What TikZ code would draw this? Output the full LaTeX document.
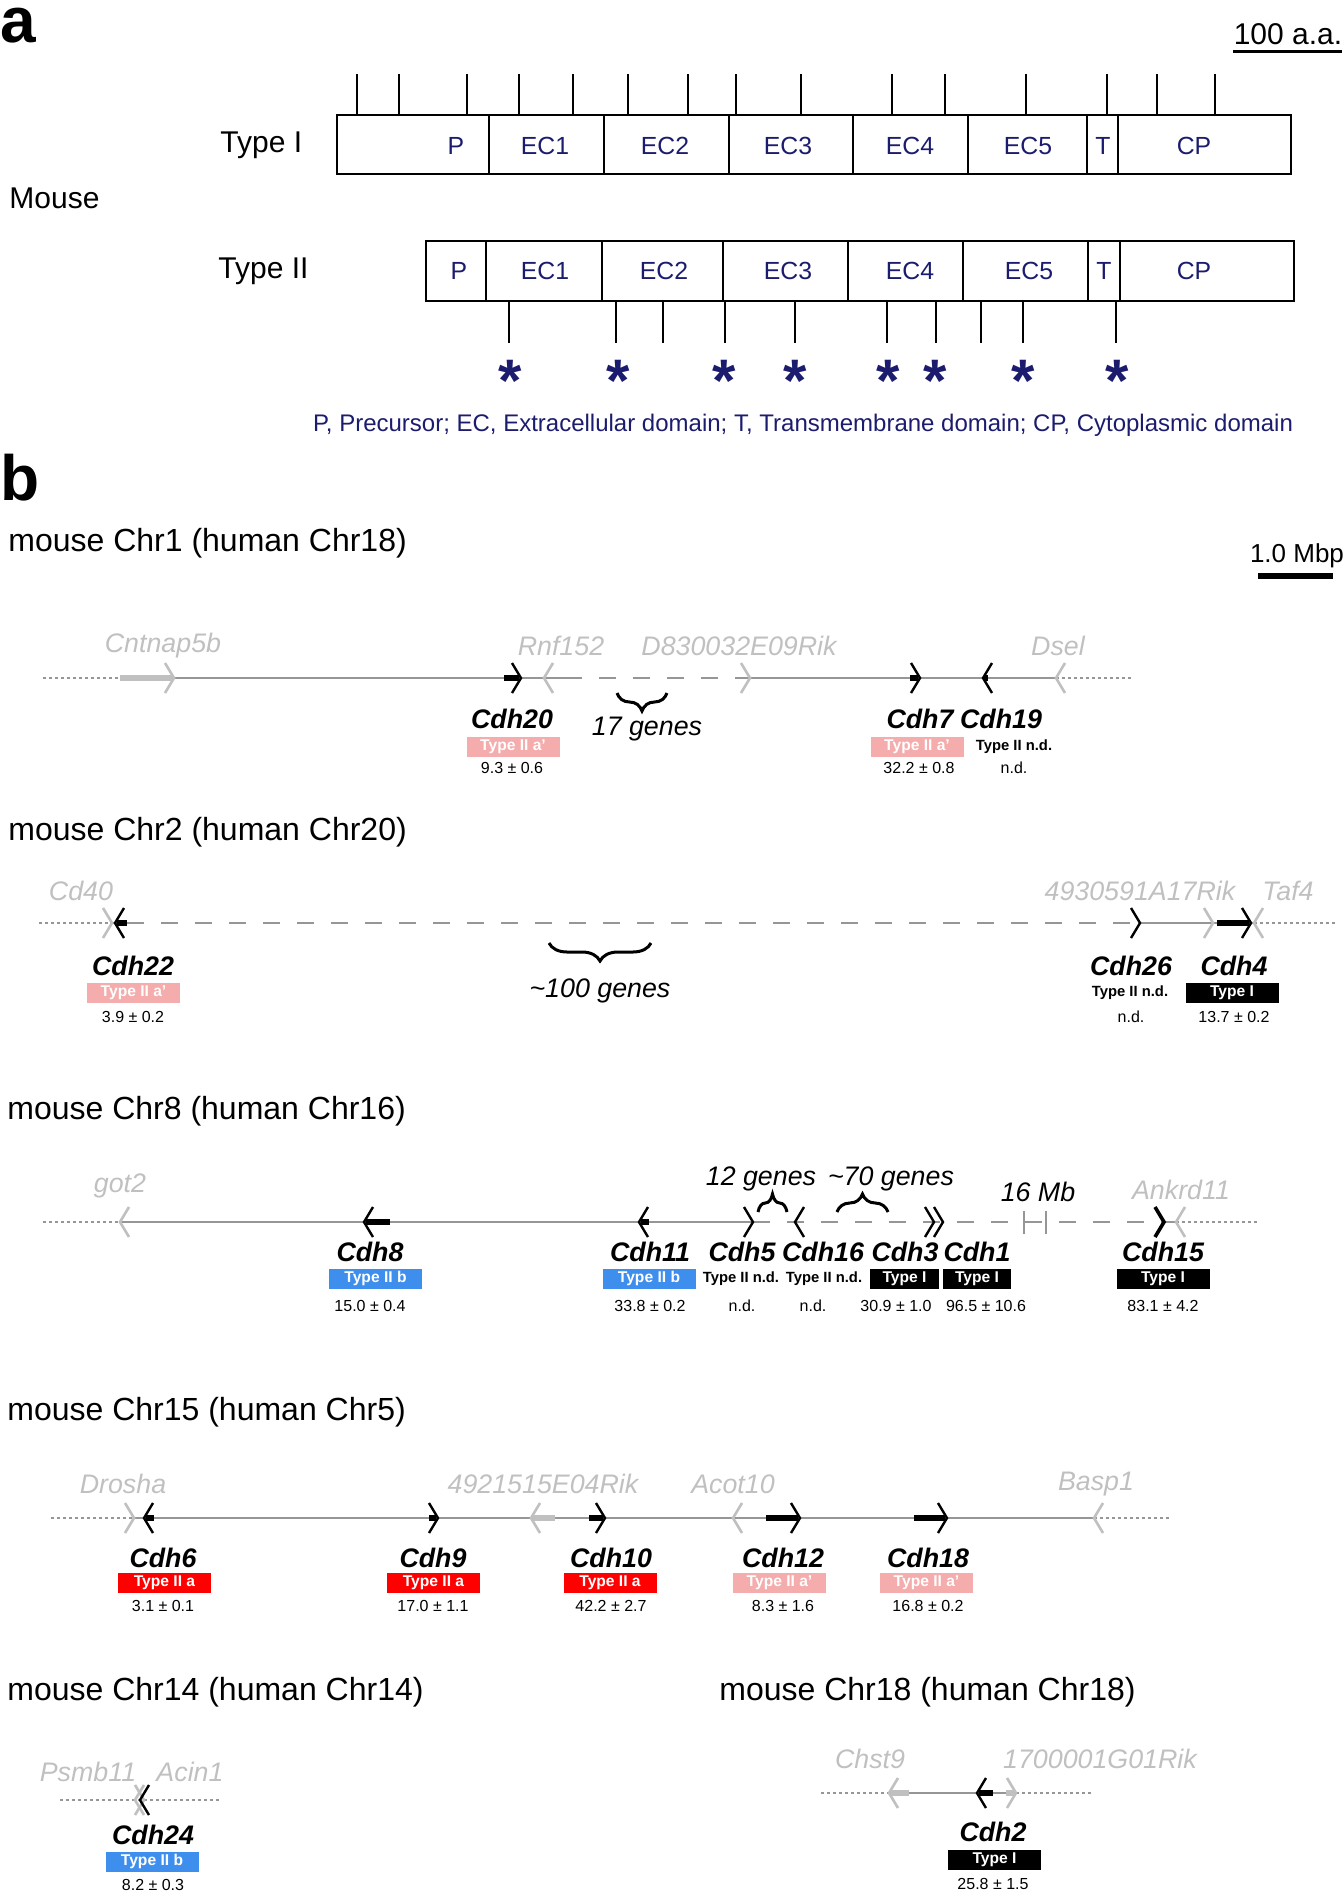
\documentclass[tikz,border=0pt]{standalone}
\usepackage{fontspec}
\setmainfont{Liberation Sans}
\usetikzlibrary{decorations.pathreplacing}
\definecolor{navy}{RGB}{28,28,110}
\definecolor{genegrey}{RGB}{192,192,192}
\definecolor{linegrey}{RGB}{150,150,150}
\definecolor{pinkbox}{RGB}{245,172,172}
\definecolor{redbox}{RGB}{255,0,0}
\definecolor{bluebox}{RGB}{62,142,238}
% chevrons of the genes
\newcommand{\genefwd}[3]{\draw[#1] ({#2-9},{#3-15}) -- (#2,#3) -- ({#2-9},{#3+15});}
\newcommand{\generev}[3]{\draw[#1] ({#2+9},{#3-15}) -- (#2,#3) -- ({#2+9},{#3+15});}

\begin{document}
\begin{tikzpicture}[x=0.5pt,y=-0.5pt,line cap=butt,line join=miter,
  panel/.style={anchor=base west,inner sep=0pt,font=\fontsize{32}{36}\selectfont\bfseries},
  chrtitle/.style={anchor=west,inner sep=0pt,font=\fontsize{16}{19}\selectfont},
  dom/.style={text=navy,font=\fontsize{12.4}{15}\selectfont,inner sep=0pt},
  dombox/.style={line width=1.3pt},
  domline/.style={line width=1pt},
  tickline/.style={line width=1pt},
  star/.style={text=navy,anchor=base,inner sep=0pt,font=\fontsize{30}{30}\selectfont\bfseries},
  gname/.style={text=genegrey,inner sep=0pt,font=\fontsize{13.4}{16}\selectfont\itshape},
  cdh/.style={inner sep=0pt,font=\fontsize{13.4}{16}\selectfont\bfseries\itshape},
  ngenes/.style={inner sep=0pt,font=\fontsize{13.4}{16}\selectfont\itshape},
  tbox/.style={text=white,inner sep=0pt,minimum width=46.5pt,minimum height=10pt,font=\fontsize{7.8}{9}\selectfont\bfseries},
  ndtext/.style={inner sep=0pt,font=\fontsize{7.4}{9}\selectfont\bfseries},
  val/.style={inner sep=0pt,font=\fontsize{8}{10}\selectfont},
  chrline/.style={draw=linegrey,line width=1pt},
  dashline/.style={draw=linegrey,line width=1pt,dash pattern=on 8.5pt off 8.5pt},
  dotline/.style={draw=linegrey,line width=0.7pt,dash pattern=on 1.5pt off 1.5pt},
  gchev/.style={draw=genegrey,line width=1.3pt},
  bchev/.style={draw=black,line width=1.2pt},
  gbar/.style={draw=genegrey,line width=3pt},
  bbar/.style={draw=black,line width=3pt},
  gbrace/.style={decorate,decoration={brace,amplitude=9pt},line width=1.5pt},
  breakline/.style={draw=linegrey,line width=0.7pt}]
\useasboundingbox (0,0) rectangle (1344,1891);

% ---------- a ----------
\node[panel] (pa) at (0,42) {a};
\node[anchor=center,inner sep=0pt,font=\fontsize{15}{18}\selectfont] (aa) at (1288,34) {100 a.a.};
\draw[line width=1.5pt] (1233,51) -- (1342,51);
\node[anchor=west,inner sep=0pt,font=\fontsize{15}{18}\selectfont] (mouse) at (9,198) {Mouse};
\node[anchor=west,inner sep=0pt,font=\fontsize{15}{18}\selectfont] (typeI) at (220,145) {Type I};
\node[anchor=west,inner sep=0pt,font=\fontsize{15}{18}\selectfont] (typeII) at (218,271) {Type II};
% Type I
\foreach \x in {357,399,467,519,573,628,688,736,801,892,945,1026,1107,1157,1215}
  \draw[tickline] (\x,74) -- (\x,115);
\draw[dombox] (337,115) rectangle (1291,174);
\foreach \x in {489,604,729,853,968,1087,1118}
  \draw[domline] (\x,115) -- (\x,174);
\node[dom] (pI) at (456,146) {P};
\node[dom] (ecIa) at (545,146) {EC1};
\node[dom] (ecIb) at (665,146) {EC2};
\node[dom] (ecIc) at (788,146) {EC3};
\node[dom] (ecId) at (910,146) {EC4};
\node[dom] (ecIe) at (1028,146) {EC5};
\node[dom] (tI) at (1103,146) {T};
\node[dom] (cpI) at (1194,146) {CP};
% Type II
\draw[dombox] (426,241) rectangle (1294,301);
\foreach \x in {486,602,723,848,963,1088,1120}
  \draw[domline] (\x,241) -- (\x,301);
\node[dom] (pII) at (459,271) {P};
\node[dom] (ecIIa) at (545,271) {EC1};
\node[dom] (ecIIb) at (664,271) {EC2};
\node[dom] (ecIIc) at (788,271) {EC3};
\node[dom] (ecIId) at (910,271) {EC4};
\node[dom] (ecIIe) at (1029,271) {EC5};
\node[dom] (tII) at (1104,271) {T};
\node[dom] (cpII) at (1194,271) {CP};
\foreach \x in {509,616,663,725,795,887,936,981,1023,1116}
  \draw[tickline] (\x,301) -- (\x,343);
\foreach \x in {510,618,724,795,888,935,1023,1117}
  \node[star] at (\x,401) {*};
\node[text=navy,inner sep=0pt,font=\fontsize{12}{14}\selectfont] (legend) at (803,425)
  {P, Precursor; EC, Extracellular domain; T, Transmembrane domain; CP, Cytoplasmic domain};

% ---------- b ----------
\node[panel] (pb) at (0,500) {b};
\node[anchor=center,inner sep=0pt,font=\fontsize{13}{16}\selectfont] (mbp) at (1297,556) {1.0 Mbp};
\draw[line width=3pt] (1258,576) -- (1333,576);

% Chr1
\node[chrtitle] (chrI) at (8,543) {mouse Chr1 (human Chr18)};
\draw[dotline] (43,678) -- (120,678);
\draw[chrline] (120,678) -- (565,678);
\draw[dashline] (565,678) -- (750,678);
\draw[chrline] (750,678) -- (1056,678);
\draw[dotline] (1056,678) -- (1131,678);
\draw[gbar] (120,678) -- (172,678);
\genefwd{gchev}{174}{678}
\draw[bbar] (504,678) -- (519,678);
\genefwd{bchev}{521}{678}
\generev{gchev}{544}{678}
\genefwd{gchev}{750}{678}
\draw[bbar] (910,678) -- (918,678);
\genefwd{bchev}{920}{678}
\draw[bbar] (984,678) -- (988,678);
\generev{bchev}{983}{678}
\generev{gchev}{1056}{678}
\node[gname] (cntnap) at (163,646) {Cntnap5b};
\node[gname] (rnf) at (561,646) {Rnf152};
\node[gname] (driken) at (739,646) {D830032E09Rik};
\node[gname] (dsel) at (1058,646) {Dsel};
\draw[gbrace] (667,693) -- (617,693);
\node[ngenes] (gI) at (647,729) {17 genes};
\node[cdh] (cdhxx) at (512,719) {Cdh20};
\node[tbox,fill=pinkbox] (tbxx) at (513,747) {Type II a’};
\node[val] (vxx) at (512,768) {9.3 ± 0.6};
\node[cdh] (cdhvii) at (920,719) {Cdh7};
\node[tbox,fill=pinkbox] (tbvii) at (917,747) {Type II a’};
\node[val] (vvii) at (919,768) {32.2 ± 0.8};
\node[cdh] (cdhxix) at (1001,719) {Cdh19};
\node[ndtext] (tbxix) at (1014,747) {Type II n.d.};
\node[val] (vxix) at (1014,768) {n.d.};

% Chr2
\node[chrtitle] (chrII) at (8,832) {mouse Chr2 (human Chr20)};
\draw[dotline] (39,923) -- (110,923);
\draw[dashline] (127,923) -- (1140,923);
\draw[chrline] (110,923) -- (127,923);
\draw[chrline] (1140,923) -- (1254,923);
\draw[dotline] (1254,923) -- (1337,923);
\genefwd{gchev}{112}{923}
\draw[bbar] (117,923) -- (127,923);
\generev{bchev}{115}{923}
\genefwd{bchev}{1140}{923}
\genefwd{gchev}{1213}{923}
\draw[bbar] (1217,923) -- (1249,923);
\genefwd{bchev}{1251}{923}
\generev{gchev}{1254}{923}
\node[gname] (cdxl) at (81,891) {Cd40};
\node[gname] (rikII) at (1140,891) {4930591A17Rik};
\node[gname] (taf) at (1288,891) {Taf4};
\draw[gbrace] (651,943) -- (549,943);
\node[ngenes] (gII) at (600,991) {\textasciitilde100 genes};
\node[cdh] (cdhxxii) at (133,966) {Cdh22};
\node[tbox,fill=pinkbox] (tbxxii) at (133.5,993) {Type II a’};
\node[val] (vxxii) at (133,1017) {3.9 ± 0.2};
\node[cdh] (cdhxxvi) at (1131,966) {Cdh26};
\node[ndtext] (tbxxvi) at (1130,993) {Type II n.d.};
\node[val] (vxxvi) at (1131,1017) {n.d.};
\node[cdh] (cdhiv) at (1234,966) {Cdh4};
\node[tbox,fill=black] (tbiv) at (1232,993) {Type I};
\node[val] (viv) at (1234,1017) {13.7 ± 0.2};

% Chr8
\node[chrtitle] (chrVIII) at (7,1111) {mouse Chr8 (human Chr16)};
\draw[dotline] (43,1222) -- (120,1222);
\draw[chrline] (120,1222) -- (753,1222);
\draw[dashline] (753,1222) -- (1164,1222);
\draw[chrline] (1164,1222) -- (1176,1222);
\draw[dotline] (1176,1222) -- (1258,1222);
\generev{gchev}{120}{1222}
\draw[bbar] (366,1222) -- (390,1222);
\generev{bchev}{364}{1222}
\draw[bbar] (641,1222) -- (649,1222);
\generev{bchev}{639}{1222}
\genefwd{bchev}{753}{1222}
\generev{bchev}{795}{1222}
\genefwd{bchev}{934}{1222}
\genefwd{bchev}{943}{1222}
\draw[breakline] (1024,1211) -- (1024,1234);
\draw[breakline] (1046,1211) -- (1046,1234);
\generev{gchev}{1176}{1222}
\genefwd{bchev,line width=1.8pt}{1164}{1222}
\node[gname] (got) at (120,1186) {got2};
\node[gname] (ankrd) at (1181,1190) {Ankrd11};
\draw[gbrace] (758,1212) -- (787,1212);
\draw[gbrace] (837,1212) -- (888,1212);
\node[ngenes] (gXII) at (761,1179) {12 genes};
\node[ngenes] (gLXX) at (891,1179) {\textasciitilde70 genes};
\node[ngenes] (mb) at (1038,1192) {16 Mb};
\node[cdh] (cdhviii) at (370,1252) {Cdh8};
\node[tbox,fill=bluebox] (tbviii) at (375.5,1278.5) {Type II b};
\node[val] (vviii) at (370,1306) {15.0 ± 0.4};
\node[cdh] (cdhxi) at (650,1252) {Cdh11};
\node[tbox,fill=bluebox] (tbxi) at (649,1278.5) {Type II b};
\node[val] (vxi) at (650,1306) {33.8 ± 0.2};
\node[cdh] (cdhv) at (742,1252) {Cdh5};
\node[ndtext] (tbv) at (741,1278.5) {Type II n.d.};
\node[val] (vv) at (742,1306) {n.d.};
\node[cdh] (cdhxvi) at (823,1252) {Cdh16};
\node[ndtext] (tbxvi) at (824,1278.5) {Type II n.d.};
\node[val] (vxvi) at (813,1306) {n.d.};
\node[cdh] (cdhiii) at (905,1252) {Cdh3};
\node[tbox,fill=black,minimum width=34.5pt] (tbiii) at (904.5,1278.5) {Type I};
\node[val] (viii) at (896,1306) {30.9 ± 1.0};
\node[cdh] (cdhi) at (977,1252) {Cdh1};
\node[tbox,fill=black,minimum width=34pt] (tbi) at (977,1278.5) {Type I};
\node[val] (vi) at (986,1306) {96.5 ± 10.6};
\node[cdh] (cdhxv) at (1163,1252) {Cdh15};
\node[tbox,fill=black] (tbxv) at (1163,1278.5) {Type I};
\node[val] (vxv) at (1163,1306) {83.1 ± 4.2};

% Chr15
\node[chrtitle] (chrXV) at (7,1412) {mouse Chr15 (human Chr5)};
\draw[dotline] (51,1518) -- (134,1518);
\draw[chrline] (134,1518) -- (1094,1518);
\draw[dotline] (1094,1518) -- (1172,1518);
\genefwd{gchev}{134}{1518}
\draw[bbar] (146,1518) -- (154,1518);
\generev{bchev}{144}{1518}
\draw[bbar] (429,1518) -- (436,1518);
\genefwd{bchev}{438}{1518}
\draw[gbar] (533,1518) -- (555,1518);
\generev{gchev}{531}{1518}
\draw[bbar] (589,1518) -- (603,1518);
\genefwd{bchev}{605}{1518}
\generev{gchev}{733}{1518}
\draw[bbar] (766,1518) -- (798,1518);
\genefwd{bchev}{800}{1518}
\draw[bbar] (914,1518) -- (945,1518);
\genefwd{bchev}{947}{1518}
\generev{gchev}{1094}{1518}
\node[gname] (drosha) at (123,1484) {Drosha};
\node[gname] (rikXV) at (543,1484) {4921515E04Rik};
\node[gname] (acot) at (733,1484) {Acot10};
\node[gname] (basp) at (1096,1484) {Basp1};
\node[cdh] (cdhvi) at (163,1558) {Cdh6};
\node[tbox,fill=redbox] (tbvi) at (164.5,1583) {Type II a};
\node[val] (vvi) at (163,1606) {3.1 ± 0.1};
\node[cdh] (cdhix) at (433,1558) {Cdh9};
\node[tbox,fill=redbox] (tbix) at (433.5,1583) {Type II a};
\node[val] (vix) at (433,1606) {17.0 ± 1.1};
\node[cdh] (cdhx) at (611,1558) {Cdh10};
\node[tbox,fill=redbox] (tbx) at (610,1583) {Type II a};
\node[val] (vx) at (611,1606) {42.2 ± 2.7};
\node[cdh] (cdhxii) at (783,1558) {Cdh12};
\node[tbox,fill=pinkbox] (tbxii) at (779.5,1583) {Type II a’};
\node[val] (vxii) at (783,1606) {8.3 ± 1.6};
\node[cdh] (cdhxviii) at (928,1558) {Cdh18};
\node[tbox,fill=pinkbox] (tbxviii) at (926.5,1583) {Type II a’};
\node[val] (vxviii) at (928,1606) {16.8 ± 0.2};

% Chr14
\node[chrtitle] (chrXIV) at (7,1692) {mouse Chr14 (human Chr14)};
\draw[dotline] (60,1800) -- (221,1800);
\genefwd{gchev}{144}{1800}
\generev{gchev}{135}{1800}
\generev{bchev}{140}{1800}
\node[gname] (psmb) at (88,1772) {Psmb11};
\node[gname] (acin) at (190,1772) {Acin1};
\node[cdh] (cdhxxiv) at (153,1835) {Cdh24};
\node[tbox,fill=bluebox] (tbxxiv) at (152,1861.5) {Type II b};
\node[val] (vxxiv) at (153,1885) {8.2 ± 0.3};

% Chr18
\node[chrtitle] (chrXVIII) at (719,1692) {mouse Chr18 (human Chr18)};
\draw[dotline] (821,1793) -- (889,1793);
\draw[chrline] (889,1793) -- (1016,1793);
\draw[dotline] (1016,1793) -- (1093,1793);
\draw[gbar] (891,1793) -- (909,1793);
\generev{gchev}{889}{1793}
\draw[gbar] (1006,1793) -- (1014,1793);
\genefwd{gchev}{1016}{1793}
\draw[bbar] (979,1793) -- (993,1793);
\generev{bchev}{977}{1793}
\node[gname] (chst) at (870,1759) {Chst9};
\node[gname] (rikXVIII) at (1100,1759) {1700001G01Rik};
\node[cdh] (cdhii) at (993,1832) {Cdh2};
\node[tbox,fill=black] (tbii) at (994.5,1859.5) {Type I};
\node[val] (vii) at (993,1884) {25.8 ± 1.5};
\end{tikzpicture}
\end{document}
